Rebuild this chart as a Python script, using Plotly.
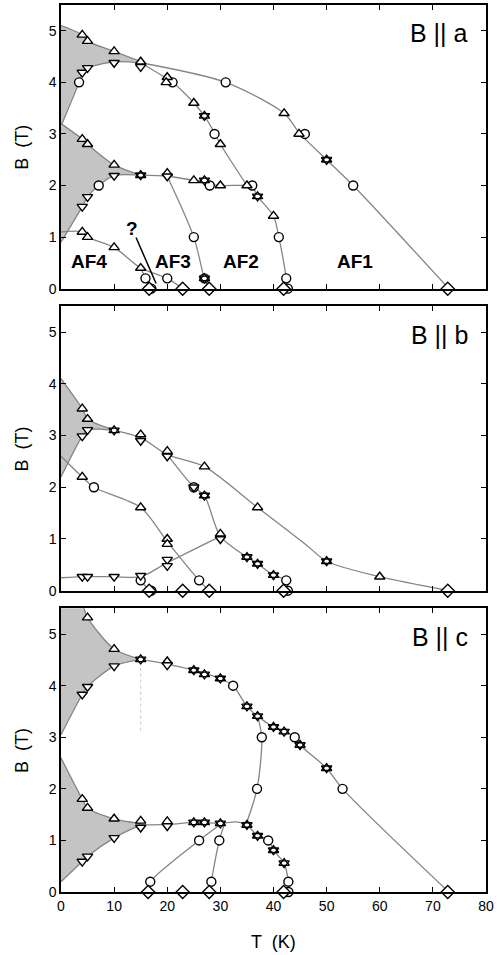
import plotly.graph_objects as go

# ---------------- data: B || a ----------------
A_SH1_UP = [(0, 5.1), (4, 4.92), (5, 4.8), (10, 4.6), (15, 4.4)]
A_SH1_LO = [(0, 3.15), (3.4, 4.0), (4, 4.19), (5, 4.28), (10, 4.4), (15, 4.38)]
A_SH2_UP = [(0, 3.2), (4, 2.9), (5, 2.8), (10, 2.4), (15, 2.2)]
A_SH2_LO = [(0, 0.9), (4, 1.59), (5, 1.78), (7.1, 2.0), (10, 2.19), (15, 2.2)]
A_LINES = [
    [(15, 4.38), (20, 4.07), (21, 4.0), (25, 3.6), (27, 3.35), (29, 3.0), (30, 2.8), (35, 2.0)],
    [(15, 4.38), (31, 4.0), (42, 3.4), (45, 3.0), (50, 2.5), (55, 2.0), (73, 0)],
    [(15, 2.2), (20, 2.18), (25, 2.1), (27, 2.08), (28, 2.02), (30, 2.0), (35, 2.0), (36, 1.98),
     (37, 1.79), (40, 1.41), (41, 1.0), (42.4, 0.2), (42.6, 0)],
    [(20, 2.18), (25, 1.0), (27, 0.2), (27.9, 0)],
    [(0, 1.1), (4, 1.1), (5, 1.0), (10, 0.8), (15, 0.4), (20, 0.2), (22.9, 0)],
    [(15, 0.4), (15.9, 0.2), (16.6, 0)],
]
A_CIRCLE = [(3.4, 4.0), (21, 4.0), (31, 4.0), (28.9, 3.0), (45.9, 3.0), (7.1, 2.0), (28, 2.0),
            (36, 2.0), (55, 2.0), (25, 1.0), (41, 1.0), (15.9, 0.2), (20, 0.2), (27, 0.2),
            (42.4, 0.2), (17, 0), (42.7, 0)]
A_UP = [(4, 4.92), (5, 4.8), (10, 4.6), (15, 4.4), (20, 4.1), (19.8, 4.0), (25, 3.6), (30, 2.8),
        (35, 2.0), (42, 3.4), (44.8, 3.0), (4, 2.9), (5, 2.8), (10, 2.4), (20, 2.24), (25, 2.1),
        (30, 2.0), (40, 1.41), (4, 1.1), (5, 1.0), (10, 0.8), (15, 0.4)]
A_DOWN = [(4, 4.19), (5, 4.28), (10, 4.38), (15, 4.3), (10, 2.19), (5, 1.78), (4, 1.59), (20, 2.18)]
A_STAR = [(27, 3.35), (50, 2.5), (15, 2.2), (27, 2.1), (37, 1.79), (27, 0.2)]
A_DIAMOND = [(16.6, 0), (22.9, 0), (27.9, 0), (41.9, 0), (72.8, 0)]

# ---------------- data: B || b ----------------
B_SH1_UP = [(0, 4.1), (4, 3.52), (5, 3.32), (10, 3.11)]
B_SH1_LO = [(0, 2.2), (4, 2.99), (5, 3.11), (10, 3.1)]
B_LINES = [
    [(10, 3.1), (15, 2.96), (20, 2.63), (27, 2.4), (37, 1.61), (46, 0.9), (50, 0.57), (60, 0.27), (73, 0)],
    [(20, 2.63), (25, 2.0), (27, 1.84), (30, 1.05), (35, 0.65), (37, 0.52), (40, 0.3), (42.4, 0.2), (42.6, 0)],
    [(0, 2.6), (4, 2.2), (6.2, 2.0), (15, 1.61), (20, 0.95), (26, 0.2), (27.9, 0)],
    [(0, 0.25), (5, 0.27), (10, 0.27), (15, 0.27), (20, 0.54), (30, 1.05)],
    [(15, 0.2), (16.6, 0)],
]
B_CIRCLE = [(6.2, 2.0), (25, 2.0), (15, 0.2), (26, 0.2), (42.4, 0.2), (17, 0), (42.7, 0)]
B_UP = [(4, 3.52), (5, 3.32), (15, 3.02), (20, 2.7), (27, 2.4), (37, 1.61), (60, 0.27), (4, 2.2),
        (15, 1.61), (20, 1.0), (20, 0.9), (30, 1.1)]
B_DOWN = [(4, 2.99), (5, 3.11), (15, 2.9), (20, 2.6), (25, 2.0), (4, 0.27), (5, 0.27), (10, 0.27),
          (15, 0.29), (20, 0.6), (20, 0.48), (30, 1.0)]
B_STAR = [(10, 3.1), (27, 1.84), (35, 0.65), (37, 0.52), (40, 0.3), (50, 0.57)]
B_DIAMOND = [(16.6, 0), (22.9, 0), (27.9, 0), (41.9, 0), (72.8, 0)]

# ---------------- data: B || c ----------------
C_SH1_UP = [(0, 7.6), (3.2, 6.0), (4.2, 5.55), (5, 5.32), (10, 4.71), (15, 4.51)]
C_SH1_LO = [(0, 3.05), (4, 3.83), (5, 3.98), (10, 4.38), (15, 4.51)]
C_SH2_UP = [(0, 2.6), (4, 1.8), (5, 1.63), (10, 1.42), (15, 1.33)]
C_SH2_LO = [(0, 0.2), (4, 0.59), (5, 0.69), (10, 1.05), (15, 1.3)]
C_LINES = [
    [(15, 4.51), (20, 4.42), (25, 4.3), (27, 4.24), (30, 4.14), (32.4, 4.0), (35, 3.6), (37, 3.41),
     (40, 3.2), (42, 3.11), (44, 3.01), (45, 2.85), (50, 2.4), (53, 2.0), (73, 0)],
    [(37, 3.41), (37.8, 3.0), (36.9, 2.0), (34.8, 1.3)],
    [(15, 1.3), (20, 1.31), (25, 1.35), (27, 1.35), (30, 1.33), (33, 1.36), (35, 1.3), (37, 1.09),
     (39, 1.01), (40, 0.81), (42, 0.56), (42.8, 0.21), (43, 0)],
    [(30.2, 1.33), (26, 1.0), (16.8, 0.2), (16.2, 0)],
    [(30.8, 1.33), (29.8, 1.0), (28.3, 0.2), (28, 0)],
]
C_DOTTED = [(15, 4.35), (15, 3.1)]
C_CIRCLE = [(32.4, 4.0), (44, 3.0), (37.8, 3.0), (36.9, 2.0), (53, 2.0), (26, 1.0), (29.8, 1.0),
            (39, 1.0), (16.8, 0.2), (28.3, 0.2), (42.8, 0.2), (42.8, 0)]
C_UP = [(5, 5.32), (10, 4.71), (20, 4.47), (4, 1.8), (5, 1.63), (10, 1.42), (15, 1.38), (20, 1.37)]
C_DOWN = [(4, 3.83), (5, 3.98), (10, 4.38), (20, 4.4), (4, 0.59), (5, 0.69), (10, 1.05), (15, 1.25),
          (20, 1.28)]
C_STAR = [(15, 4.51), (25, 4.3), (27, 4.22), (30, 4.14), (35, 3.6), (37, 3.41), (40, 3.2), (42, 3.11),
          (45, 2.85), (50, 2.4), (25, 1.35), (27, 1.35), (30, 1.33), (35, 1.3), (37, 1.09), (40, 0.81),
          (42, 0.56)]
C_DIAMOND = [(16.4, 0), (22.9, 0), (27.9, 0), (41.9, 0), (72.8, 0)]

X_TICKS = [0, 10, 20, 30, 40, 50, 60, 70, 80]
Y_TICKS = [0, 1, 2, 3, 4, 5]
PANEL_LABELS = ["B || a", "B || b", "B || c"]
PHASE_LABELS = [("AF4", 5.3, 0.53), ("AF3", 21.0, 0.53), ("AF2", 33.9, 0.53), ("AF1", 55.4, 0.53)]

# ---------------- styling ----------------
LINE_COL = "#858585"
SHADE_COL = "#c4c4c4"
FONT = "Liberation Sans, Arial, sans-serif"
MS = 9

fig = go.Figure()

def xs(pts):
    return [p[0] for p in pts]

def ys(pts):
    return [p[1] for p in pts]

def add_shade(lo, up, ax):
    fig.add_trace(go.Scatter(x=xs(lo), y=ys(lo), mode="lines", line=dict(color=LINE_COL, width=1.3, shape="spline", smoothing=0.8),
                             xaxis="x" + ax, yaxis="y" + ax, hoverinfo="skip", showlegend=False))
    fig.add_trace(go.Scatter(x=xs(up), y=ys(up), mode="lines", fill="tonexty", fillcolor=SHADE_COL,
                             line=dict(color=LINE_COL, width=1.3, shape="spline", smoothing=0.8),
                             xaxis="x" + ax, yaxis="y" + ax, hoverinfo="skip", showlegend=False))

def add_line(pts, ax):
    fig.add_trace(go.Scatter(x=xs(pts), y=ys(pts), mode="lines",
                             line=dict(color=LINE_COL, width=1.3, shape="spline", smoothing=0.8),
                             xaxis="x" + ax, yaxis="y" + ax, hoverinfo="skip", showlegend=False))

def add_markers(pts, symbol, ax, size=MS, fill="white"):
    if not pts:
        return
    fig.add_trace(go.Scatter(x=xs(pts), y=ys(pts), mode="markers", cliponaxis=False,
                             marker=dict(symbol=symbol, size=size, color=fill,
                                         line=dict(color="black", width=1.4)),
                             xaxis="x" + ax, yaxis="y" + ax, hoverinfo="skip", showlegend=False))

panels = [
    ("", [(A_SH1_LO, A_SH1_UP), (A_SH2_LO, A_SH2_UP)], A_LINES, A_CIRCLE, A_UP, A_DOWN, A_STAR, A_DIAMOND),
    ("2", [(B_SH1_LO, B_SH1_UP)], B_LINES, B_CIRCLE, B_UP, B_DOWN, B_STAR, B_DIAMOND),
    ("3", [(C_SH1_LO, C_SH1_UP), (C_SH2_LO, C_SH2_UP)], C_LINES, C_CIRCLE, C_UP, C_DOWN, C_STAR, C_DIAMOND),
]

for ax, shades, lines, circ, up, down, star, dia in panels:
    for lo, hi in shades:
        add_shade(lo, hi, ax)
    for ln in lines:
        add_line(ln, ax)
    if ax == "3":
        fig.add_trace(go.Scatter(x=xs(C_DOTTED), y=ys(C_DOTTED), mode="lines",
                                 line=dict(color="#c8c8c8", width=1, dash="dot"),
                                 xaxis="x3", yaxis="y3", hoverinfo="skip", showlegend=False))
    add_markers(circ, "circle", ax)
    add_markers(up, "triangle-up", ax)
    add_markers(down, "triangle-down", ax)
    add_markers(star, "triangle-up", ax)
    add_markers(star, "triangle-down-open", ax, fill="black")
    add_markers(dia, "diamond", ax, size=10)

domains = [[0.6802, 1.0], [0.3397, 0.6603], [0.0, 0.3198]]
axcommon = dict(showline=True, linecolor="black", linewidth=1.5, mirror="ticks", ticks="inside",
                ticklen=5, tickwidth=1, tickcolor="black", showgrid=False, zeroline=False,
                tickfont=dict(family=FONT, size=14, color="black"))
layout = dict(width=497, height=955, margin=dict(l=61, r=10, t=3, b=63),
              plot_bgcolor="white", paper_bgcolor="white", showlegend=False,
              font=dict(family=FONT, color="black"))
for i, ax in enumerate(["", "2", "3"]):
    layout["xaxis" + ax] = dict(axcommon, range=[0, 80], tickvals=X_TICKS, showticklabels=(ax == "3"),
                                anchor="y" + ax, domain=[0, 1])
    layout["yaxis" + ax] = dict(axcommon, range=[0, 5.5], tickvals=Y_TICKS, anchor="x" + ax,
                                domain=domains[i])
fig.update_layout(**layout)

ann = []
for i, ax in enumerate(["", "2", "3"]):
    ann.append(dict(text=PANEL_LABELS[i], x=77, y=4.95, xref="x" + ax, yref="y" + ax, xanchor="right",
                    yanchor="middle", showarrow=False, font=dict(family=FONT, size=25, color="black")))
    ann.append(dict(text="B  (T)", x=-0.092, y=sum(domains[i]) / 2, xref="paper", yref="paper",
                    textangle=-90, showarrow=False, xanchor="center", yanchor="middle",
                    font=dict(family=FONT, size=18, color="black")))
for name, tx, ty in PHASE_LABELS:
    ann.append(dict(text="<b>" + name + "</b>", x=tx, y=ty, xref="x", yref="y", showarrow=False,
                    font=dict(family=FONT, size=19, color="black")))
ann.append(dict(text="<b>?</b>", x=13.3, y=1.17, xref="x", yref="y", showarrow=False,
                font=dict(family=FONT, size=19, color="black")))
ann.append(dict(text="", x=17.9, y=0.1, ax=14.0, ay=1.02, xref="x", yref="y", axref="x", ayref="y",
                showarrow=True, arrowhead=0, arrowwidth=1.5, arrowcolor="black"))
ann.append(dict(text="T  (K)", x=40, y=-0.056, xref="x3", yref="paper", showarrow=False,
                xanchor="center", yanchor="middle", font=dict(family=FONT, size=18, color="black")))
fig.update_layout(annotations=ann)

fig.write_html("out.html", config={"displayModeBar": False},
               post_script="document.body.style.margin='0';document.documentElement.style.margin='0';")
